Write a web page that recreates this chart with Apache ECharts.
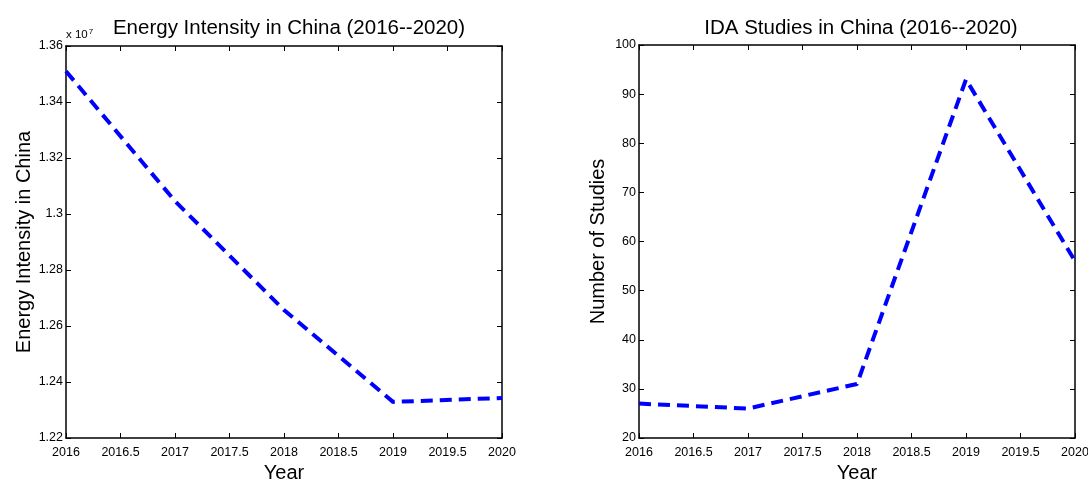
<!DOCTYPE html>
<html><head><meta charset="utf-8">
<script src="https://cdn.jsdelivr.net/npm/echarts@6/dist/echarts.min.js"></script>
<style>html,body{margin:0;padding:0;background:#fff}#c{width:1088px;height:482px}</style>
</head><body><div id="c"></div>
<script>
const years = [2016, 2017, 2018, 2019, 2020];
const energyIntensity = [13510000, 13046000, 12657000, 12329000, 12343000];
const idaStudies = [27, 26, 31, 93, 56];
const leftTitle = 'Energy Intensity in China (2016--2020)';
const rightTitle = 'IDA Studies in China (2016--2020)';

const FONT = 'Liberation Sans, Arial, sans-serif';
const chart = echarts.init(document.getElementById('c'));
function fmtX(v){ return String(Math.round(v*10)/10); }
function fmtE(v){ return String(Math.round(v/1e5)/100); }
const baseX = (gi, pos) => ({
  type:'value', gridIndex:gi, position:pos, min:2016, max:2020, interval:0.5,
  axisLine:{show:true, onZero:false, lineStyle:{color:'#000', width:1.5}},
  axisTick:{show:true, inside:true, length:5, lineStyle:{color:'#000'}},
  axisLabel:{show: pos==='bottom', formatter:fmtX, color:'#000', fontFamily:FONT, fontSize:12.5, margin:8},
  splitLine:{show:false}
});
const baseY = (gi, pos, min, max, interval, fmt) => ({
  type:'value', gridIndex:gi, position:pos, min, max, interval,
  axisLine:{show:true, onZero:false, lineStyle:{color:'#000', width:1.5}},
  axisTick:{show:true, inside:true, length:5, lineStyle:{color:'#000'}},
  axisLabel:{show: pos==='left', formatter:fmt, color:'#000', fontFamily:FONT, fontSize:12.5, margin:3},
  splitLine:{show:false}
});
const xAxes = [baseX(0,'bottom'), baseX(0,'top'), baseX(1,'bottom'), baseX(1,'top')];
xAxes[0].name='Year'; xAxes[2].name='Year';
[0,2].forEach(i=>{ Object.assign(xAxes[i], {nameLocation:'middle', nameGap:24, nameTextStyle:{fontFamily:FONT, fontSize:20, color:'#000'}}); });
const yAxes = [
  baseY(0,'left',12200000,13600000,200000,fmtE),
  baseY(0,'right',12200000,13600000,200000,fmtE),
  baseY(1,'left',20,100,10,v=>String(v)),
  baseY(1,'right',20,100,10,v=>String(v))
];
Object.assign(yAxes[0], {name:'Energy Intensity in China', nameLocation:'middle', nameGap:29, nameTextStyle:{fontFamily:FONT, fontSize:20, color:'#000'}});
Object.assign(yAxes[2], {name:'Number of Studies', nameLocation:'middle', nameGap:31, nameTextStyle:{fontFamily:FONT, fontSize:20, color:'#000'}});
const lineStyle = {color:'#0000ff', width:4, type:[12,7]};
chart.setOption({
  animation:false,
  title:[
    {text:leftTitle, left:284, top:13, textAlign:'center', textStyle:{fontFamily:FONT, fontSize:20.5, fontWeight:'normal', color:'#000'}},
    {text:rightTitle, left:856, top:13, textAlign:'center', textStyle:{fontFamily:FONT, fontSize:20.5, fontWeight:'normal', color:'#000'}}
  ],
  grid:[
    {left:66, right:586, top:46, bottom:44, outerBoundsMode:'none'},
    {left:639, right:13, top:45, bottom:44, outerBoundsMode:'none'}
  ],
  xAxis:xAxes, yAxis:yAxes,
  graphic:[{type:'text', left:66, top:28, style:{text:'{a|x 10}{b|7}', rich:{a:{fontFamily:FONT, fontSize:11.5, fill:'#000'}, b:{fontFamily:FONT, fontSize:8, fill:'#000', verticalAlign:'top', padding:[0,0,6,1]}}}}],
  series:[
    {type:'line', xAxisIndex:0, yAxisIndex:0, data:years.map((y,i)=>[y,energyIntensity[i]]), showSymbol:false, lineStyle},
    {type:'line', xAxisIndex:2, yAxisIndex:2, data:years.map((y,i)=>[y,idaStudies[i]]), showSymbol:false, lineStyle}
  ]
});
</script></body></html>
